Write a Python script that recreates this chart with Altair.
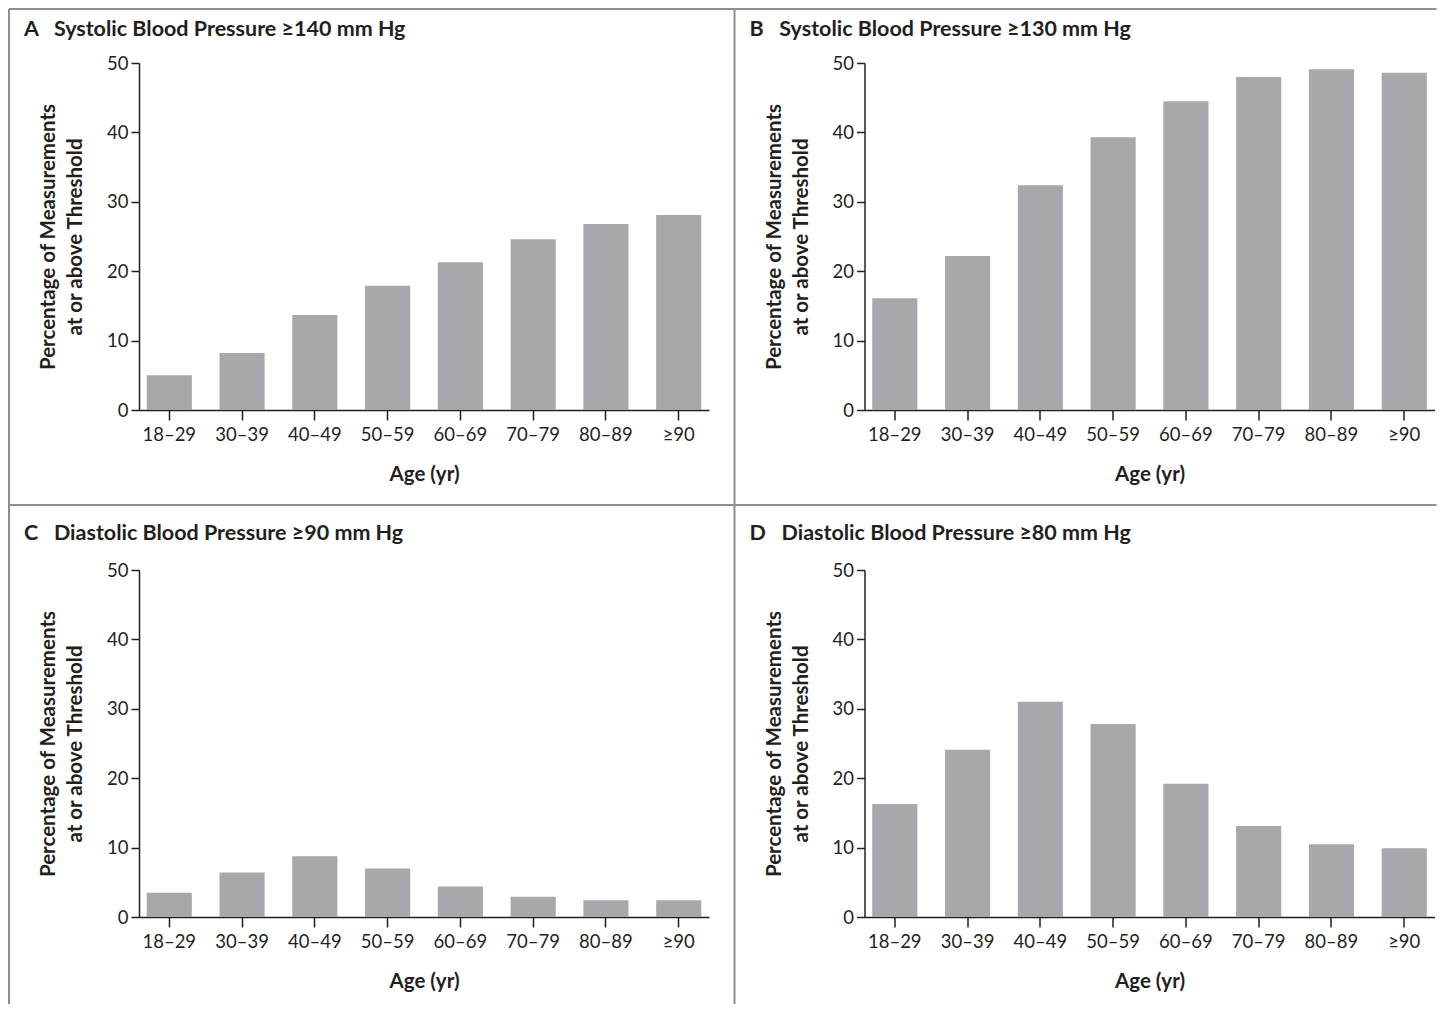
import altair as alt
import pandas as pd

ages = ["18–29", "30–39", "40–49", "50–59", "60–69", "70–79", "80–89", "≥90"]
sbp140 = [5.0, 8.2, 13.7, 17.9, 21.3, 24.6, 26.8, 28.1]
sbp130 = [16.1, 22.2, 32.4, 39.3, 44.5, 48.0, 49.1, 48.6]
dbp90 = [3.5, 6.4, 8.75, 7.0, 4.4, 2.9, 2.4, 2.4]
dbp80 = [16.3, 24.1, 31.0, 27.8, 19.2, 13.1, 10.5, 9.9]
letters = ["A", "B", "C", "D"]
titles = [
    "Systolic Blood Pressure ≥140 mm Hg",
    "Systolic Blood Pressure ≥130 mm Hg",
    "Diastolic Blood Pressure ≥90 mm Hg",
    "Diastolic Blood Pressure ≥80 mm Hg",
]
y_title = ["Percentage of Measurements", "at or above Threshold"]
x_title = "Age (yr)"
y_ticks = [0, 10, 20, 30, 40, 50]

FONT = "Lato"
INK = "#231f20"
BAR = "#a7a8ac"
BORDER = "#8f8f8f"
W, H = 570, 347


def panel(values, letter, title, row, col):
    df = pd.DataFrame({"age": ages, "pct": values})
    bars = alt.Chart(df).mark_bar(color=BAR).encode(
        x=alt.X(
            "age:N",
            sort=ages,
            scale=alt.Scale(paddingInner=0.38, paddingOuter=0.106),
            axis=alt.Axis(
                title=x_title,
                labelAngle=0,
                tickSize=10,
                labelPadding=5,
                titlePadding=21,
            ),
        ),
        y=alt.Y(
            "pct:Q",
            scale=alt.Scale(domain=[0, 50], nice=False),
            axis=alt.Axis(
                title=y_title,
                values=y_ticks,
                tickSize=8,
                labelPadding=3,
                titlePadding=21,
                titleLineHeight=27,
            ),
        ),
    )
    one = pd.DataFrame({"k": [0]})
    top = -54 if row == 0 else -65
    bottom = 442 if row == 0 else 434
    right = W + 25.5 if col == 0 else W + 2
    left_rule = alt.Chart(one).mark_rule(color=BORDER, strokeWidth=2).encode(
        x=alt.value(-130), y=alt.value(top), y2=alt.value(bottom)
    )
    top_rule = alt.Chart(one).mark_rule(color=BORDER, strokeWidth=2).encode(
        x=alt.value(-130), x2=alt.value(right), y=alt.value(top)
    )
    return alt.layer(bars, left_rule, top_rule).properties(
        width=W,
        height=H,
        title=alt.TitleParams(
            text=letter + "\u00a0\u00a0\u00a0" + title,
            anchor="start",
            frame="group",
            dx=-115,
            dy=(49 if row == 0 else 57),
            offset=0,
            baseline="alphabetic",
            fontSize=21.5,
            font=FONT,
            fontWeight="bold",
            color=INK,
        ),
    )


series = [sbp140, sbp130, dbp90, dbp80]
panels = [panel(series[i], letters[i], titles[i], i // 2, i % 2) for i in range(4)]

chart = alt.concat(
    *panels,
    columns=2,
    spacing={"row": 160, "column": 155.5},
    bounds="flush",
).properties(padding=0).configure_view(stroke=None).configure_axis(
    domainColor=INK,
    tickColor=INK,
    domainWidth=1.5,
    tickWidth=1.5,
    labelColor=INK,
    titleColor=INK,
    labelFont=FONT,
    titleFont=FONT,
    labelFontSize=18.5,
    titleFontSize=20.5,
    titleFontWeight="bold",
    grid=False,
)

chart.save("out.html", embed_options={"renderer": "svg", "actions": False})
